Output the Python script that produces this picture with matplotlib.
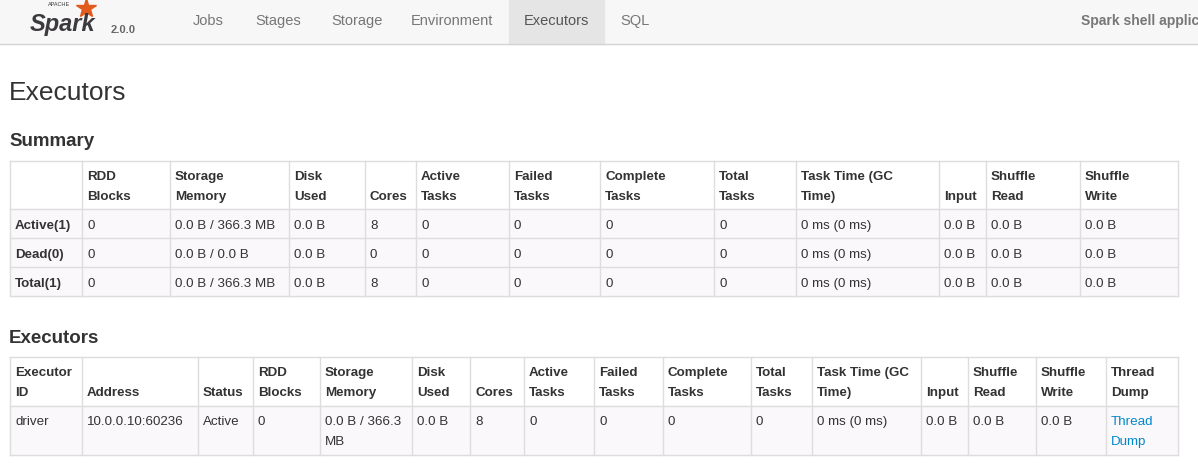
import matplotlib
matplotlib.use("Agg")
import matplotlib.pyplot as plt
from matplotlib.patches import Rectangle

plt.rcParams["font.family"] = "Liberation Sans"

nav_tabs = ["Jobs", "Stages", "Storage", "Environment", "Executors", "SQL"]
nav_x = [193, 255, 331, 411, 524, 620]
active_tab = "Executors"

summary_header = [["", ""], ["RDD", "Blocks"], ["Storage", "Memory"], ["Disk", "Used"], ["", "Cores"],
                  ["Active", "Tasks"], ["Failed", "Tasks"], ["Complete", "Tasks"], ["Total", "Tasks"],
                  ["Task Time (GC", "Time)"], ["", "Input"], ["Shuffle", "Read"], ["Shuffle", "Write"]]
summary_rows = [
    ["Active(1)", "0", "0.0 B / 366.3 MB", "0.0 B", "8", "0", "0", "0", "0", "0 ms (0 ms)", "0.0 B", "0.0 B", "0.0 B"],
    ["Dead(0)", "0", "0.0 B / 0.0 B", "0.0 B", "0", "0", "0", "0", "0", "0 ms (0 ms)", "0.0 B", "0.0 B", "0.0 B"],
    ["Total(1)", "0", "0.0 B / 366.3 MB", "0.0 B", "8", "0", "0", "0", "0", "0 ms (0 ms)", "0.0 B", "0.0 B", "0.0 B"],
]
summary_cols = [10, 82, 170, 289, 365, 416, 509, 600, 714, 796, 939, 986, 1080, 1178]

exec_header = [["Executor", "ID"], ["", "Address"], ["", "Status"], ["RDD", "Blocks"], ["Storage", "Memory"],
               ["Disk", "Used"], ["", "Cores"], ["Active", "Tasks"], ["Failed", "Tasks"], ["Complete", "Tasks"],
               ["Total", "Tasks"], ["Task Time (GC", "Time)"], ["", "Input"], ["Shuffle", "Read"],
               ["Shuffle", "Write"], ["Thread", "Dump"]]
exec_rows = [["driver", "10.0.0.10:60236", "Active", "0", "0.0 B / 366.3\nMB", "0.0 B", "8", "0", "0", "0",
              "0", "0 ms (0 ms)", "0.0 B", "0.0 B", "0.0 B", "Thread\nDump"]]
exec_cols = [10, 82, 198, 253, 320, 412, 470, 524, 594, 663, 751, 812, 921, 968, 1036, 1106, 1178]

fig = plt.figure(figsize=(11.98, 4.64), dpi=100)
ax = fig.add_axes([0, 0, 1, 1])
ax.set_xlim(0, 1198)
ax.set_ylim(464, 0)
ax.axis("off")

FS = 9.6
TC = "#333333"
BC = "#dddddd"

# navbar
ax.add_patch(Rectangle((0, 0), 1198, 45, color="#f7f7f7", zorder=0))
ax.plot([0, 1198], [45, 45], color="#d4d4d4", lw=1)
ax.add_patch(Rectangle((509, 0), 95, 45, color="#e5e5e5", zorder=1))
for t, x in zip(nav_tabs, nav_x):
    ax.text(x, 21, t, fontsize=10.5, color="#555555" if t == active_tab else "#777777", va="center", zorder=2)
ax.text(1081, 21, "Spark shell applic", fontsize=10, color="#777777", weight="bold", va="center")
# logo
ax.text(30, 24, "Spark", fontsize=17, style="italic", weight="bold", color="#3c3a3e", va="center")
ax.text(48, 5, "APACHE", fontsize=4, color="#3c3a3e", va="center")
ax.plot([86], [9], marker="*", ms=15, color="#e25a1c")
ax.text(111, 30, "2.0.0", fontsize=8, weight="bold", color="#666666", va="center")

ax.text(9, 93, "Executors", fontsize=19, color=TC, va="center")
ax.text(9, 142, "Summary", fontsize=13.5, weight="bold", color=TC, va="center")
ax.text(9, 339, "Executors", fontsize=13.5, weight="bold", color=TC, va="center")


def table(cols, top, hdr_h, row_h, header, rows):
    y = top + hdr_h
    for i, r in enumerate(rows):
        ax.add_patch(Rectangle((cols[0], y + i * row_h), cols[-1] - cols[0], row_h,
                               color="#fbf8fb", zorder=0))
    bottom = top + hdr_h + row_h * len(rows)
    for x in cols:
        ax.plot([x, x], [top, bottom], color=BC, lw=1)
    ys = [top, top + hdr_h] + [top + hdr_h + row_h * (i + 1) for i in range(len(rows))]
    for yy in ys:
        ax.plot([cols[0], cols[-1]], [yy, yy], color=BC, lw=1)
    for j, h in enumerate(header):
        x = cols[j] + 5
        ax.text(x, top + 15.5, h[0], fontsize=FS, weight="bold", color=TC, va="center")
        ax.text(x, top + 35.5, h[1], fontsize=FS, weight="bold", color=TC, va="center")
    for i, r in enumerate(rows):
        for j, v in enumerate(r):
            x = cols[j] + 5
            yy = top + hdr_h + i * row_h
            bold = (j == 0 and header is summary_header)
            col = "#0088cc" if v.startswith("Thread") else TC
            if "\n" in v:
                a, b = v.split("\n")
                ax.text(x, yy + 15.5, a, fontsize=FS, color=col, va="center")
                ax.text(x, yy + 35.5, b, fontsize=FS, color=col, va="center")
            else:
                ax.text(x, yy + 16 if row_h < 40 else yy + 15.5, v, fontsize=FS, color=col,
                        weight="bold" if bold else "normal", va="center")


table(summary_cols, 162, 48, 29, summary_header, summary_rows)
table(exec_cols, 358, 49, 49, exec_header, exec_rows)

fig.savefig("out.png", dpi=100)
